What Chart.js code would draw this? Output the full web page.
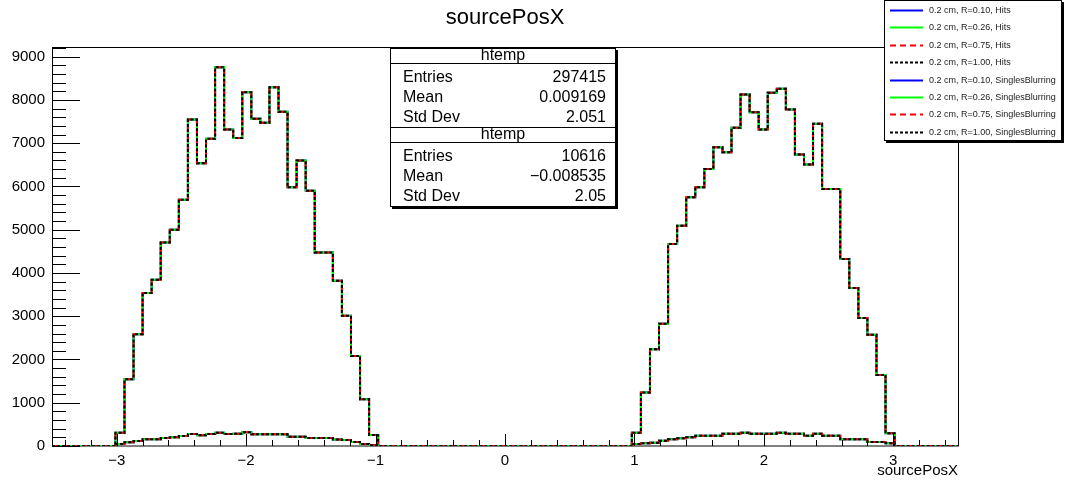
<!DOCTYPE html>
<html>
<head>
<meta charset="utf-8">
<script src="https://cdn.jsdelivr.net/npm/chart.js@4/dist/chart.umd.min.js"></script>
<style>
  html, body { margin: 0; background: #fff; }
  canvas { display: block; }
</style>
</head>
<body>
<canvas id="histo" width="1067" height="488"></canvas>
<script>
// binning of the histogram (100 bins from -3.5 to 3.5)
const binLow = -3.5;
const binWidth = 0.07;
const nBins = 100;
const leftStart = 7;   // first filled bin of the left peak
const rightStart = 64; // first filled bin of the right peak

// Hits counts per bin
const hitsLeft = [308, 1544, 2585, 3534, 3843, 4706, 5000, 5694, 7546, 6535, 7100, 8757, 7315, 7122, 8178,
  7562, 7470, 8294, 7724, 5980, 6597, 5903, 4475, 4475, 3819, 3009, 2083, 1081, 255];
const hitsRight = [308, 1234, 2238, 2824, 4669, 5093, 5748, 5980, 6405, 6906, 6790, 7354, 8125, 7715, 7315,
  8164, 8257, 7778, 6736, 6505, 7447, 5942, 5942, 4322, 3650, 2956, 2569, 1644, 293];

// SinglesBlurring counts per bin
const blurLeft = [46, 85, 116, 154, 154, 185, 200, 231, 278, 246, 278, 309, 278, 285, 315,
  270, 270, 270, 270, 215, 215, 185, 185, 185, 150, 139, 92, 46, 20];
const blurRight = [46, 61, 77, 123, 154, 177, 200, 238, 238, 238, 285, 285, 308, 285, 285,
  285, 308, 285, 285, 238, 285, 238, 238, 154, 154, 154, 92, 92, 61];

// tick labels
const xTicks = [-3, -2, -1, 0, 1, 2, 3];
const yTicks = [0, 1000, 2000, 3000, 4000, 5000, 6000, 7000, 8000, 9000];

const seriesNames = [
  '0.2 cm, R=0.10, Hits', '0.2 cm, R=0.26, Hits', '0.2 cm, R=0.75, Hits', '0.2 cm, R=1.00, Hits',
  '0.2 cm, R=0.10, SinglesBlurring', '0.2 cm, R=0.26, SinglesBlurring',
  '0.2 cm, R=0.75, SinglesBlurring', '0.2 cm, R=1.00, SinglesBlurring'
];
const seriesColors = ['#0000ff', '#00ff00', '#ff0000', '#000000', '#0000ff', '#00ff00', '#ff0000', '#000000'];
const seriesDash = [[], [], [6, 4], [3, 2], [], [], [6, 4], [3, 2]];

const statsBlocks = [
  { name: 'htemp', rows: [['Entries', '297415'], ['Mean', '0.009169'], ['Std Dev', '2.051']] },
  { name: 'htemp', rows: [['Entries', '10616'], ['Mean', '\u22120.008535'], ['Std Dev', '2.05']] }
];

const FONT = '"Liberation Sans", Arial, sans-serif';

function edge(i) {
  return Math.round((binLow + i * binWidth) * 1000) / 1000;
}

function fillBins(left, right) {
  const v = new Array(nBins).fill(0);
  left.forEach((c, i) => { v[leftStart + i] = c; });
  right.forEach((c, i) => { v[rightStart + i] = c; });
  return v;
}

// points on the low edge of every bin, plus the closing high edge
function stepPoints(v) {
  const pts = v.map((c, i) => ({ x: edge(i), y: c }));
  pts.push({ x: edge(nBins), y: v[nBins - 1] });
  return pts;
}

const hitsPts = stepPoints(fillBins(hitsLeft, hitsRight));
const blurPts = stepPoints(fillBins(blurLeft, blurRight));

const datasets = seriesNames.map((name, i) => ({
  label: name,
  data: i < 4 ? hitsPts : blurPts,
  borderColor: seriesColors[i],
  borderDash: seriesDash[i],
  borderWidth: 2,
  stepped: 'before',
  pointRadius: 0,
  fill: false,
  // black on top, then red, green, blue
  order: 3 - (i % 4) + (i < 4 ? 4 : 0)
}));

const rootDecor = {
  id: 'rootDecor',
  beforeDatasetsDraw(chart) {
    const { ctx, chartArea: a } = chart;
    ctx.save();
    ctx.strokeStyle = '#000';
    ctx.lineWidth = 1;
    ctx.strokeRect(a.left + 0.5, a.top - 0.5, a.right - a.left, a.bottom - a.top + 0.5);
    ctx.restore();
  },
  afterDatasetsDraw(chart) {
    const { ctx, chartArea: a, scales } = chart;
    const xs = scales.x, ys = scales.y;
    ctx.save();
    ctx.strokeStyle = '#000';
    ctx.lineWidth = 1;

    // x ticks inside the frame
    ctx.beginPath();
    for (let k = -17; k <= 17; k++) {
      const px = Math.round(xs.getPixelForValue(k * 0.2)) + 0.5;
      const len = k % 5 === 0 ? 12 : 6;
      ctx.moveTo(px, a.bottom);
      ctx.lineTo(px, a.bottom - len);
    }
    // y ticks inside the frame
    for (let v = 0; v <= ys.max; v += 200) {
      const py = Math.round(ys.getPixelForValue(v)) + 0.5;
      const len = v % 1000 === 0 ? 28 : 14;
      ctx.moveTo(a.left, py);
      ctx.lineTo(a.left + len, py);
    }
    ctx.stroke();

    // titles
    ctx.fillStyle = '#000';
    ctx.textBaseline = 'middle';
    ctx.textAlign = 'center';
    ctx.font = '22px ' + FONT;
    ctx.fillText('sourcePosX', 505, 18);
    ctx.textAlign = 'right';
    ctx.font = '15px ' + FONT;
    ctx.fillText('sourcePosX', a.right, 471);

    // stats box
    const sx = 390, sy = 48, sw = 226, sh = 159;
    ctx.fillStyle = '#000';
    ctx.fillRect(sx + 2, sy + 2, sw, sh);
    ctx.fillStyle = '#fff';
    ctx.fillRect(sx, sy, sw, sh);
    ctx.strokeRect(sx + 0.5, sy + 0.5, sw - 1, sh - 1);
    let y = sy;
    statsBlocks.forEach((b, bi) => {
      ctx.beginPath();
      if (bi > 0) { ctx.moveTo(sx, y + 0.5); ctx.lineTo(sx + sw, y + 0.5); }
      ctx.moveTo(sx, y + 15.5); ctx.lineTo(sx + sw, y + 15.5);
      ctx.stroke();
      ctx.fillStyle = '#000';
      ctx.font = '16px ' + FONT;
      ctx.textAlign = 'center';
      ctx.fillText(b.name, sx + sw / 2, y + 8);
      b.rows.forEach((r, ri) => {
        const ry = y + 30 + ri * 20;
        ctx.textAlign = 'left';
        ctx.fillText(r[0], sx + 13, ry);
        ctx.textAlign = 'right';
        ctx.fillText(r[1], sx + sw - 10, ry);
      });
      y += 79;
    });

    // legend box
    const lx = 884, ly = 0, lw = 178, lh = 141;
    ctx.fillStyle = '#000';
    ctx.fillRect(lx + 2, ly + 2, lw, lh);
    ctx.fillStyle = '#fff';
    ctx.fillRect(lx, ly, lw, lh);
    ctx.strokeRect(lx + 0.5, ly + 0.5, lw - 1, lh - 1);
    ctx.font = '9px ' + FONT;
    ctx.textAlign = 'left';
    seriesNames.forEach((name, i) => {
      const ry = Math.round(10 + i * 17.4) + 0.5;
      ctx.beginPath();
      ctx.strokeStyle = seriesColors[i];
      ctx.lineWidth = 2;
      ctx.setLineDash(seriesDash[i]);
      ctx.moveTo(890, ry);
      ctx.lineTo(923, ry);
      ctx.stroke();
      ctx.setLineDash([]);
      ctx.fillStyle = '#222';
      ctx.fillText(name, 929, ry);
    });
    ctx.restore();
  }
};

new Chart(document.getElementById('histo'), {
  type: 'line',
  data: { datasets },
  options: {
    responsive: false,
    animation: false,
    devicePixelRatio: 1,
    layout: { padding: { left: 0, top: 48, right: 109, bottom: 0 } },
    plugins: {
      legend: { display: false },
      tooltip: { enabled: false },
      title: { display: false }
    },
    scales: {
      x: {
        type: 'linear',
        min: -3.5,
        max: 3.5,
        grid: { display: false, drawTicks: false },
        border: { display: false },
        afterFit: s => { s.height = 42; },
        afterBuildTicks: s => { s.ticks = xTicks.map(v => ({ value: v })); },
        ticks: {
          padding: 6,
          color: '#000',
          font: { family: FONT, size: 15 },
          callback: v => (v < 0 ? '\u2212' + Math.abs(v) : String(v))
        }
      },
      y: {
        min: 0,
        max: 9200,
        grid: { display: false, drawTicks: false },
        border: { display: false },
        afterFit: s => { s.width = 52; },
        afterBuildTicks: s => { s.ticks = yTicks.map(v => ({ value: v })); },
        ticks: {
          padding: 7,
          color: '#000',
          font: { family: FONT, size: 15 },
          callback: v => String(v)
        }
      }
    }
  },
  plugins: [rootDecor]
});
</script>
</body>
</html>
